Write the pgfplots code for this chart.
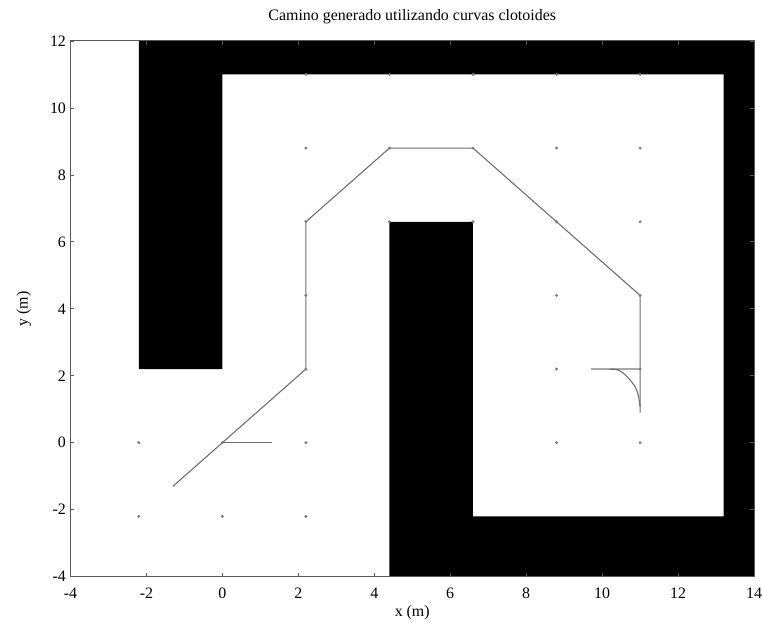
\documentclass[border=0pt]{standalone}
\usepackage{pgfplots}
\pgfplotsset{compat=1.18}
\usepackage{fontspec}
\setmainfont{Liberation Serif}
\definecolor{pathgray}{RGB}{110,110,110}
\definecolor{dotgray}{RGB}{125,125,125}
\begin{document}
\begin{tikzpicture}
\begin{axis}[
  scale only axis,
  width=684bp, height=536bp,
  xmin=-4, xmax=14, ymin=-4, ymax=12,
  xtick={-4,-2,...,14}, ytick={-4,-2,...,12},
  tick align=inside,
  major tick length=4pt,
  axis line style={draw=black!65, line width=1pt},
  tick style={black!65, line width=0.7pt},
  /pgf/number format/assume math mode=true,
  tick label style={font=\fontsize{16}{19}\selectfont},
  label style={font=\fontsize{16}{19}\selectfont},
  xticklabel style={yshift=-8bp},
  yticklabel style={xshift=-1bp},
  title style={font=\fontsize{16}{19}\selectfont, at={(0.5,1)}, anchor=south, yshift=8bp},
  title={Camino generado utilizando curvas clotoides},
  xlabel={x (m)}, ylabel={y (m)},
  xlabel style={at={(0.5,0)}, anchor=north, yshift=-25bp},
  ylabel style={at={(0,0.5)}, anchor=south, rotate=0, xshift=0bp, yshift=36bp},
  axis on top,
  clip=true,
]
% grid dots
\addplot[only marks, mark=*, mark size=1.3pt, color=dotgray] coordinates {
(-2.2,-2.2)(0,-2.2)(2.2,-2.2)
(-2.2,0)(0,0)(2.2,0)(8.8,0)(11,0)
(2.2,2.2)(8.8,2.2)(11,2.2)
(2.2,4.4)(8.8,4.4)(11,4.4)
(2.2,6.6)(4.4,6.6)(6.6,6.6)(8.8,6.6)(11,6.6)
(2.2,8.8)(4.4,8.8)(6.6,8.8)(8.8,8.8)(11,8.8)
(2.2,11)(4.4,11)(6.6,11)(8.8,11)(11,11)
};
% obstacles
\addplot[fill=black, draw=none] coordinates {
(-2.2,2.2)(0,2.2)(0,11)(13.2,11)(13.2,-2.2)(6.6,-2.2)(6.6,6.6)(4.4,6.6)(4.4,-4)(14,-4)(14,12)(-2.2,12)
} -- cycle;
% path
\addplot[pathgray, line width=1.1pt, line join=round] coordinates {
(-1.3,-1.3)(2.2,2.2)(2.2,6.6)(4.4,8.8)(6.6,8.8)(11,4.4)(11,0.9)
};
\addplot[pathgray, line width=1.1pt] coordinates {(0,0)(1.3,0)};
\addplot[pathgray!60, line width=1.4pt] coordinates {(9.7,2.2)(11,2.2)};
\addplot[pathgray, line width=1.1pt, smooth] coordinates {
(10.2,2.2)(10.45,2.16)(10.66,1.97)(10.87,1.67)(10.96,1.38)(11,1.07)
};
\end{axis}
\pgfresetboundingbox
\path (current axis.south west) ++(-70.5bp,-60bp) (current axis.north east) ++(9bp,41bp);
\end{tikzpicture}
\end{document}
